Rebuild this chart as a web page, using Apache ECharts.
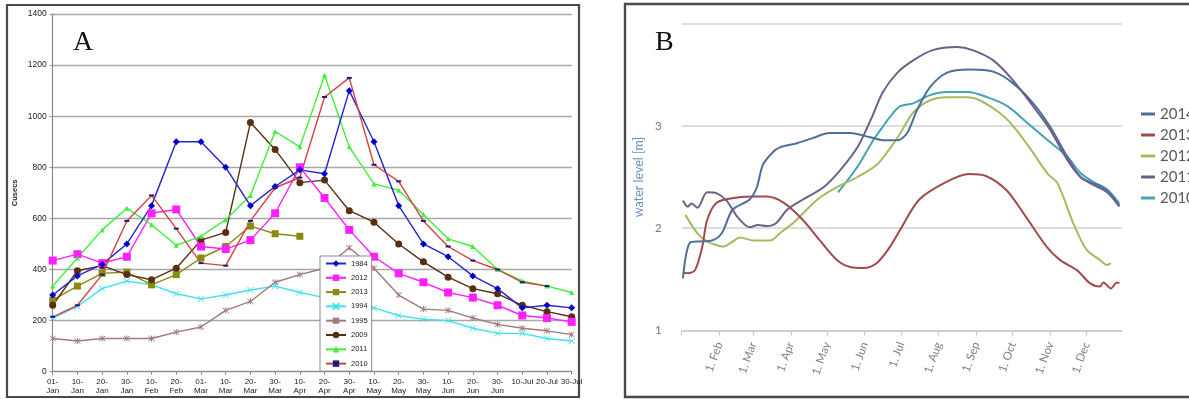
<!DOCTYPE html>
<html>
<head>
<meta charset="utf-8">
<script src="https://cdn.jsdelivr.net/npm/echarts@6/dist/echarts.min.js"></script>
<style>
  html, body { margin: 0; padding: 0; background: #fff; }
  #chart { width: 1189px; height: 399px; }
</style>
</head>
<body>
<div id="chart"></div>
<script>
// ---- Panel A: discharge (cusecs) at ten-day steps, January to July ----
const dischargeDates = ['01-\nJan','10-\nJan','20-\nJan','30-\nJan','10-\nFeb','20-\nFeb','01-\nMar','10-\nMar',
  '20-\nMar','30-\nMar','10-\nApr','20-\nApr','30-\nApr','10-\nMay','20-\nMay','30-\nMay','10-\nJun','20-\nJun',
  '30-\nJun','10-Jul','20-Jul','30-Jul'];
const q1984 = [300,375,420,500,650,900,900,800,650,725,790,775,1100,900,650,500,450,375,325,250,260,250];
const q2012 = [435,460,425,450,620,635,490,480,515,620,800,680,555,450,385,350,310,290,260,220,210,195];
const q2013 = [280,335,385,390,340,380,445,490,570,540,530];
const q1994 = [210,255,325,355,340,305,285,300,320,335,310,290,270,250,220,205,200,170,150,150,130,120];
const q1995 = [130,120,130,130,130,155,175,240,275,350,380,405,485,405,300,245,240,210,185,170,160,145];
const q2009 = [260,395,415,380,360,405,515,545,975,870,740,750,630,585,500,430,370,325,305,260,235,215];
const q2011 = [335,445,555,640,575,495,530,595,690,940,880,1160,880,735,710,615,520,490,400,355,335,310];
const q2010 = [215,260,380,590,690,560,425,415,590,720,760,1075,1150,810,745,590,490,435,400,350,335];
const dischargeTicks = [0,200,400,600,800,1000,1200,1400];

// ---- Panel B: water level [m] through the year, as [day of year, level] ----
const monthLabels = ['1. Jan','1. Feb','1. Mar','1. Apr','1. May','1. Jun','1. Jul','1. Aug','1. Sep','1. Oct','1. Nov','1. Dec'];
const monthStartDays = [0,31,59,90,120,151,181,212,243,273,304,334];
const levelTicks = [1,2,3,4];
const lvl2014 = [[1,1.51],[7,1.86],[15,1.87],[25,1.88],[33,1.95],[42,2.18],[56,2.28],[62,2.40],[67,2.62],[75,2.74],
  [81,2.79],[95,2.83],[108,2.88],[122,2.93],[139,2.93],[155,2.89],[166,2.86],[178,2.86],[186,2.93],[194,3.15],
  [205,3.38],[219,3.52],[238,3.55],[257,3.53],[273,3.42],[290,3.22],[304,2.99],[318,2.70],[329,2.50],[339,2.44],
  [345,2.41],[351,2.36],[356,2.30],[361,2.22]];
const lvl2013 = [[1,1.57],[5,1.56],[11,1.59],[17,1.82],[21,2.08],[29,2.25],[46,2.30],[62,2.31],[70,2.31],[84,2.25],
  [100,2.08],[114,1.88],[128,1.69],[139,1.62],[150,1.61],[161,1.66],[172,1.82],[180,1.98],[196,2.28],[218,2.45],
  [237,2.53],[251,2.51],[268,2.37],[284,2.11],[301,1.82],[312,1.69],[326,1.59],[337,1.46],[345,1.43],[348,1.47],
  [354,1.41],[359,1.47],[361,1.46]];
const lvl2012 = [[3,2.13],[13,1.95],[21,1.87],[27,1.84],[34,1.82],[41,1.86],[48,1.91],[59,1.88],[73,1.88],[81,1.95],
  [92,2.05],[112,2.28],[128,2.40],[145,2.50],[161,2.62],[170,2.75],[180,2.92],[191,3.13],[205,3.25],[219,3.28],
  [236,3.28],[246,3.25],[263,3.12],[274,2.99],[288,2.77],[302,2.53],[310,2.44],[323,2.05],[334,1.79],[345,1.69],
  [351,1.64],[354,1.66]];
const lvl2011 = [[1,2.27],[5,2.21],[8,2.24],[13,2.20],[21,2.35],[29,2.34],[37,2.27],[46,2.11],[56,2.01],[63,2.03],
  [70,2.02],[78,2.05],[87,2.18],[100,2.28],[117,2.40],[131,2.57],[145,2.79],[156,3.06],[166,3.33],[178,3.52],
  [191,3.64],[207,3.74],[227,3.77],[240,3.74],[257,3.64],[273,3.45],[290,3.19],[304,2.96],[318,2.67],[329,2.50],
  [340,2.42],[351,2.35],[361,2.21]];
const lvl2010 = [[129,2.35],[145,2.60],[158,2.86],[164,2.96],[172,3.09],[180,3.19],[191,3.22],[205,3.30],[219,3.33],
  [236,3.33],[252,3.28],[269,3.19],[285,3.03],[302,2.86],[318,2.70],[329,2.54],[340,2.45],[351,2.38],[361,2.24]];

// one category per day on the level axis, labelled only on the first of each month
const dayCount = 364;
const dayCategories = Array.from({ length: dayCount }, (_, d) => {
  const m = monthStartDays.indexOf(d);
  return m >= 0 ? monthLabels[m] : '';
});
const isMonthStart = (i) => monthStartDays.indexOf(i) >= 0;

const sansA = '"Liberation Sans", Arial, sans-serif';
const sansB = 'Lato, "Open Sans", sans-serif';

const xPath = 'path://M0,0L10,10M10,0L0,10';
const starPath = 'path://M0,0L10,10M10,0L0,10M5,-1L5,11';

function flowSeries(name, data, color, symbol, size, extra) {
  return Object.assign({
    name: 'A ' + name, type: 'line', xAxisIndex: 0, yAxisIndex: 0,
    data: data, symbol: symbol, symbolSize: size,
    lineStyle: { color: color, width: 1.4 },
    itemStyle: { color: color },
    emphasis: { disabled: true }
  }, extra || {});
}

function levelSeries(name, data, color) {
  return {
    name: 'B ' + name, type: 'line', xAxisIndex: 1, yAxisIndex: 1,
    data: data, showSymbol: false, smooth: 0.3,
    lineStyle: { color: color, width: 2 },
    itemStyle: { color: color },
    emphasis: { disabled: true }
  };
}

const chart = echarts.init(document.getElementById('chart'), null, { renderer: 'canvas' });
chart.setOption({
  animation: false,
  backgroundColor: '#fff',
  grid: [
    { left: 52.7, right: 617.3, top: 14, bottom: 27.3 },
    { left: 681.7, right: 67.3, top: 23.5, bottom: 68.5 }
  ],
  xAxis: [
    {
      gridIndex: 0, type: 'category', boundaryGap: false, data: dischargeDates,
      axisLine: { lineStyle: { color: '#8a8a8a', width: 1.2 } },
      axisTick: { show: true, interval: 0, length: 3, lineStyle: { color: '#8a8a8a' } },
      axisLabel: { interval: 0, fontSize: 8, lineHeight: 9.5, color: '#222', fontFamily: sansA, margin: 5 },
      splitLine: { show: false }
    },
    {
      gridIndex: 1, type: 'category', boundaryGap: false, data: dayCategories,
      axisLine: { lineStyle: { color: '#c6cad4', width: 1.5 } },
      axisTick: { show: true, interval: (i) => isMonthStart(i), length: 5, lineStyle: { color: '#c6cad4', width: 1.2 } },
      axisLabel: {
        interval: (i) => i > 0 && isMonthStart(i), rotate: 70, margin: 12,
        fontSize: 11.5, color: '#808080', fontFamily: sansB
      },
      splitLine: { show: false }
    }
  ],
  yAxis: [
    {
      gridIndex: 0, type: 'value', min: dischargeTicks[0], max: dischargeTicks[dischargeTicks.length - 1], interval: 200,
      name: 'Cusecs', nameLocation: 'middle', nameGap: 34,
      nameTextStyle: { fontSize: 7.5, fontWeight: 'bold', color: '#222', fontFamily: sansA },
      axisLine: { show: true, lineStyle: { color: '#8a8a8a', width: 1.2 } },
      axisTick: { show: true, length: 3, lineStyle: { color: '#8a8a8a' } },
      axisLabel: { fontSize: 8.5, color: '#222', fontFamily: sansA, margin: 6, formatter: (v) => String(v) },
      splitLine: { lineStyle: { color: '#a8a8a8', width: 1.3 } }
    },
    {
      gridIndex: 1, type: 'value', min: levelTicks[0], max: levelTicks[levelTicks.length - 1], interval: 1,
      name: 'water level [m]', nameLocation: 'middle', nameGap: 36,
      nameTextStyle: { fontSize: 12.5, color: '#6b93bd', fontFamily: sansB },
      axisLine: { show: false }, axisTick: { show: false },
      axisLabel: {
        fontSize: 11.5, color: '#777', fontFamily: sansB, margin: 20, padding: [0, 0, 10, 0],
        formatter: (v) => (v === levelTicks[levelTicks.length - 1] ? '' : String(v))
      },
      splitLine: { lineStyle: { color: '#d2d2d2', width: 1.5 } }
    }
  ],
  legend: [
    {
      data: ['A 1984','A 2012','A 2013','A 1994','A 1995','A 2009','A 2011','A 2010'],
      orient: 'vertical', left: 320, top: 256, itemWidth: 20, itemHeight: 8, itemGap: 5.3,
      padding: [3, 4, 3, 5], backgroundColor: '#fff', borderColor: '#8a8a8a', borderWidth: 1,
      textStyle: { fontSize: 7.5, lineHeight: 9, color: '#222', fontFamily: sansA },
      formatter: (n) => n.slice(2), selectedMode: false, z: 10
    },
    {
      data: ['B 2014','B 2013','B 2012','B 2011','B 2010'],
      orient: 'vertical', left: 1141, top: 106, icon: 'rect', itemWidth: 14, itemHeight: 3, itemGap: 5,
      padding: 0, textStyle: { fontSize: 15, lineHeight: 16, color: '#5a5a5a', fontFamily: sansB },
      formatter: (n) => n.slice(2), selectedMode: false
    }
  ],
  graphic: [
    { type: 'rect', shape: { x: 7, y: 5, width: 572, height: 392 }, style: { fill: 'none', stroke: '#4a4a4a', lineWidth: 2.2 }, silent: true },
    { type: 'rect', shape: { x: 625, y: 4, width: 600, height: 393 }, style: { fill: 'none', stroke: '#4a4a4a', lineWidth: 2.4 }, silent: true },
    { type: 'text', x: 73, y: 42.5, style: { text: 'A', fontSize: 28, fontFamily: '"Liberation Serif", "DejaVu Serif", serif', fill: '#111', verticalAlign: 'middle' }, silent: true },
    { type: 'text', x: 655, y: 42.5, style: { text: 'B', fontSize: 28, fontFamily: '"Liberation Serif", "DejaVu Serif", serif', fill: '#111', verticalAlign: 'middle' }, silent: true }
  ],
  series: [
    flowSeries('1994', q1994, '#3fe0f0', xPath, 6, { itemStyle: { color: '#3fe0f0', borderColor: '#3fe0f0', borderWidth: 1 } }),
    flowSeries('1995', q1995, '#a07a7a', starPath, 6, { itemStyle: { color: '#a07a7a', borderColor: '#a07a7a', borderWidth: 1 } }),
    flowSeries('2013', q2013, '#8a8a12', 'rect', 7),
    flowSeries('2009', q2009, '#5a2e10', 'circle', 7),
    flowSeries('2012', q2012, '#ff1fff', 'rect', 8),
    flowSeries('2011', q2011, '#3cf03c', 'triangle', 5),
    flowSeries('1984', q1984, '#2424d0', 'diamond', 7, { itemStyle: { color: '#0000cc' } }),
    flowSeries('2010', q2010, '#d84040', 'rect', [5, 2], { itemStyle: { color: '#1a1a80' } }),
    levelSeries('2010', lvl2010, '#42a2b6'),
    levelSeries('2012', lvl2012, '#a6ba60'),
    levelSeries('2013', lvl2013, '#a24b4d'),
    levelSeries('2014', lvl2014, '#4d6f98'),
    levelSeries('2011', lvl2011, '#6d6189')
  ]
});
</script>
</body>
</html>
